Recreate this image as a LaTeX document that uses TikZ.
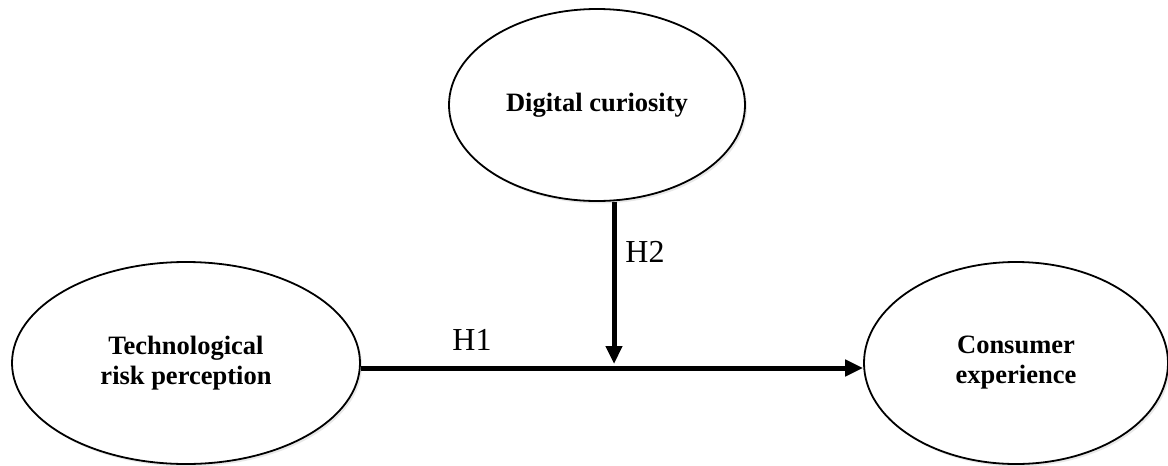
\documentclass[tikz,border=0pt]{standalone}
\usepackage{fontspec}
\setmainfont{Liberation Serif}
\usetikzlibrary{arrows.meta,shadows,shapes.geometric}
\begin{document}
\begin{tikzpicture}[x=1pt,y=-1pt,
  construct/.style={ellipse, draw, line width=1.8pt, fill=white, align=center,
    font=\bfseries\fontsize{26.5}{30}\selectfont, inner sep=0pt,
    drop shadow={shadow xshift=2pt, shadow yshift=-2.5pt, opacity=0.18}},
  relpath/.style={line width=5pt, -{Triangle[length=18pt,width=16pt]}},
  hyp/.style={font=\fontsize{32}{34}\selectfont, inner sep=0pt}]
\useasboundingbox (0,0) rectangle (1168,466);
\node[construct, minimum width=296pt, minimum height=192pt] (dc) at (597,105) {Digital curiosity};
\node[construct, minimum width=348pt, minimum height=202pt] (trp) at (186,363) {Technological\\risk perception};
\node[construct, minimum width=304pt, minimum height=202pt] (ce) at (1016,363) {Consumer\\experience};
\coordinate (m) at (614,364);
\draw[relpath] ([yshift=-5pt]trp.east) -- ([yshift=-5pt]ce.west);
\draw[relpath] (dc.south -| m) -- (m);
\node[hyp] (h1) at (472,340) {H1};
\node[hyp] (h2) at (645,252) {H2};
\end{tikzpicture}
\end{document}
